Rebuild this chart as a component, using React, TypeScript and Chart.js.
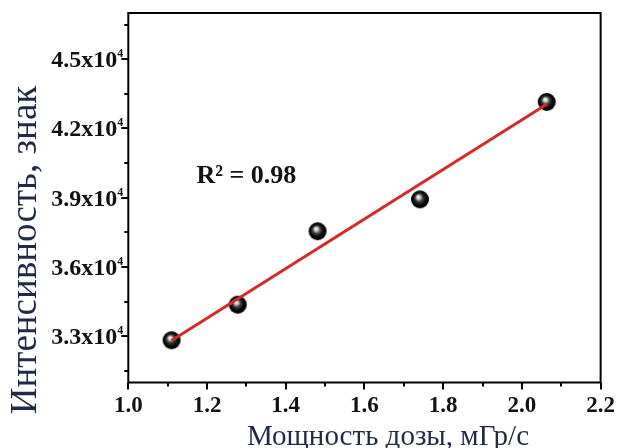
import React, { useEffect, useRef } from 'react';
import { Chart, registerables } from 'chart.js';

Chart.register(...registerables);

// ---- data ----
const doseRate = [1.11, 1.278, 1.481, 1.741, 2.063];
const intensity = [32830, 34370, 37550, 38930, 43150];
const fitX = [1.11, 2.063];
const fitY = [32820, 43050];
const xMajorTicks = [1.0, 1.2, 1.4, 1.6, 1.8, 2.0, 2.2];
const xMinorTicks = [1.1, 1.3, 1.5, 1.7, 1.9, 2.1];
const yMajorTicks = [33000, 36000, 39000, 42000, 45000];
const yMinorTicks = [31500, 34500, 37500, 40500, 43500, 46500];
const yTickExponent = '4';
const xTitle = 'Мощность дозы, мГр/с';
const yTitle = 'Интенсивность, знак';
const r2Label = 'R² = 0.98';
const r2Pos = [1.173, 39640];

const SERIF = "'Liberation Serif', 'DejaVu Serif', 'Times New Roman', serif";

function makeBall(r: number): HTMLCanvasElement {
  const size = r * 2 + 2;
  const c = document.createElement('canvas');
  c.width = size;
  c.height = size;
  const g = c.getContext('2d')!;
  const cx = size / 2;
  const cy = size / 2;
  const grad = g.createRadialGradient(cx - r * 0.2, cy - r * 0.3, 0, cx, cy, r);
  grad.addColorStop(0, '#ffffff');
  grad.addColorStop(0.18, '#d8d8d8');
  grad.addColorStop(0.45, '#3a3a3a');
  grad.addColorStop(0.75, '#050505');
  grad.addColorStop(1, '#000000');
  g.fillStyle = grad;
  g.beginPath();
  g.arc(cx, cy, r, 0, Math.PI * 2);
  g.fill();
  return c;
}

const yMantissa = (v: number) => (v / 10000).toFixed(1) + 'x10';

const framePlugin = {
  id: 'frame',
  afterDraw(chart: any) {
    const { ctx, chartArea: a, scales } = chart;
    const x = scales.x;
    const y = scales.y;
    ctx.save();
    ctx.strokeStyle = '#000';
    ctx.lineWidth = 2;
    ctx.strokeRect(a.left, a.top, a.right - a.left, a.bottom - a.top);
    ctx.beginPath();
    xMinorTicks.forEach((v) => {
      const px = Math.round(x.getPixelForValue(v));
      ctx.moveTo(px, a.bottom);
      ctx.lineTo(px, a.bottom + 4);
    });
    yMinorTicks.forEach((v) => {
      const py = Math.round(y.getPixelForValue(v));
      ctx.moveTo(a.left, py);
      ctx.lineTo(a.left - 4, py);
    });
    ctx.stroke();

    // y tick labels with superscript exponent, placed from the y scale ticks
    ctx.fillStyle = '#111';
    ctx.textBaseline = 'alphabetic';
    y.ticks.forEach((t: any) => {
      const py = y.getPixelForValue(t.value);
      const main = yMantissa(t.value);
      ctx.font = `bold 12px ${SERIF}`;
      const ew = ctx.measureText(yTickExponent).width;
      const right = a.left - 5;
      ctx.textAlign = 'right';
      ctx.fillText(yTickExponent, right, py - 2);
      ctx.font = `bold 24px ${SERIF}`;
      ctx.fillText(main, right - ew, py + 8);
    });

    // R² annotation
    ctx.fillStyle = '#111';
    ctx.font = `bold 26px ${SERIF}`;
    ctx.textAlign = 'left';
    ctx.fillText(r2Label, x.getPixelForValue(r2Pos[0]), y.getPixelForValue(r2Pos[1]));

    // axis titles
    ctx.fillStyle = '#1f2a44';
    ctx.font = `29px ${SERIF}`;
    ctx.textAlign = 'center';
    ctx.fillText(xTitle, 388, 445);

    ctx.save();
    ctx.translate(36, 250);
    ctx.rotate(-Math.PI / 2);
    ctx.font = `37px ${SERIF}`;
    ctx.textAlign = 'center';
    ctx.fillText(yTitle, 0, 0);
    ctx.restore();

    ctx.restore();
  },
};

export default function App() {
  const ref = useRef<HTMLCanvasElement | null>(null);
  useEffect(() => {
    if (!ref.current) return;
    const ball = makeBall(9);
    const chart = new Chart(ref.current, {
      type: 'scatter',
      data: {
        datasets: [
          {
            type: 'line',
            label: 'fit',
            data: fitX.map((v, i) => ({ x: v, y: fitY[i] })),
            borderColor: '#d12b2b',
            borderWidth: 3,
            pointRadius: 0,
            fill: false,
          } as any,
          {
            label: 'data',
            data: doseRate.map((v, i) => ({ x: v, y: intensity[i] })),
            pointStyle: ball as any,
            pointRadius: 9,
          },
        ],
      },
      options: {
        responsive: false,
        animation: false,
        layout: { padding: { top: 13, right: 15, left: 0, bottom: 0 } },
        plugins: { legend: { display: false }, tooltip: { enabled: false } },
        scales: {
          x: {
            type: 'linear',
            min: 1.0,
            max: 2.2,
            afterBuildTicks: (s: any) => {
              s.ticks = xMajorTicks.map((v) => ({ value: v }));
            },
            afterFit: (s: any) => {
              s.height = 65.5;
            },
            ticks: {
              color: '#111',
              font: { family: SERIF, size: 23, weight: 'bold' },
              padding: 3,
              maxRotation: 0,
              autoSkip: false,
              callback: (v: any) => Number(v).toFixed(1),
            },
            grid: { drawOnChartArea: false, drawTicks: true, tickLength: 7, color: '#000', lineWidth: 2 },
            border: { display: false },
          },
          y: {
            type: 'linear',
            min: 31000,
            max: 47000,
            afterBuildTicks: (s: any) => {
              s.ticks = yMajorTicks.map((v) => ({ value: v }));
            },
            afterFit: (s: any) => {
              s.width = 128.3;
            },
            ticks: {
              display: false,
              autoSkip: false,
              callback: (v: any) => yMantissa(Number(v)) + yTickExponent,
            },
            grid: { drawOnChartArea: false, drawTicks: true, tickLength: 7, color: '#000', lineWidth: 2 },
            border: { display: false },
          },
        },
      },
      plugins: [framePlugin],
    });
    return () => chart.destroy();
  }, []);
  return (
    <div style={{ position: 'absolute', left: 0, top: 0, width: 618, height: 448, background: '#fff' }}>
      <canvas ref={ref} width={618} height={448} style={{ display: 'block' }} />
    </div>
  );
}
